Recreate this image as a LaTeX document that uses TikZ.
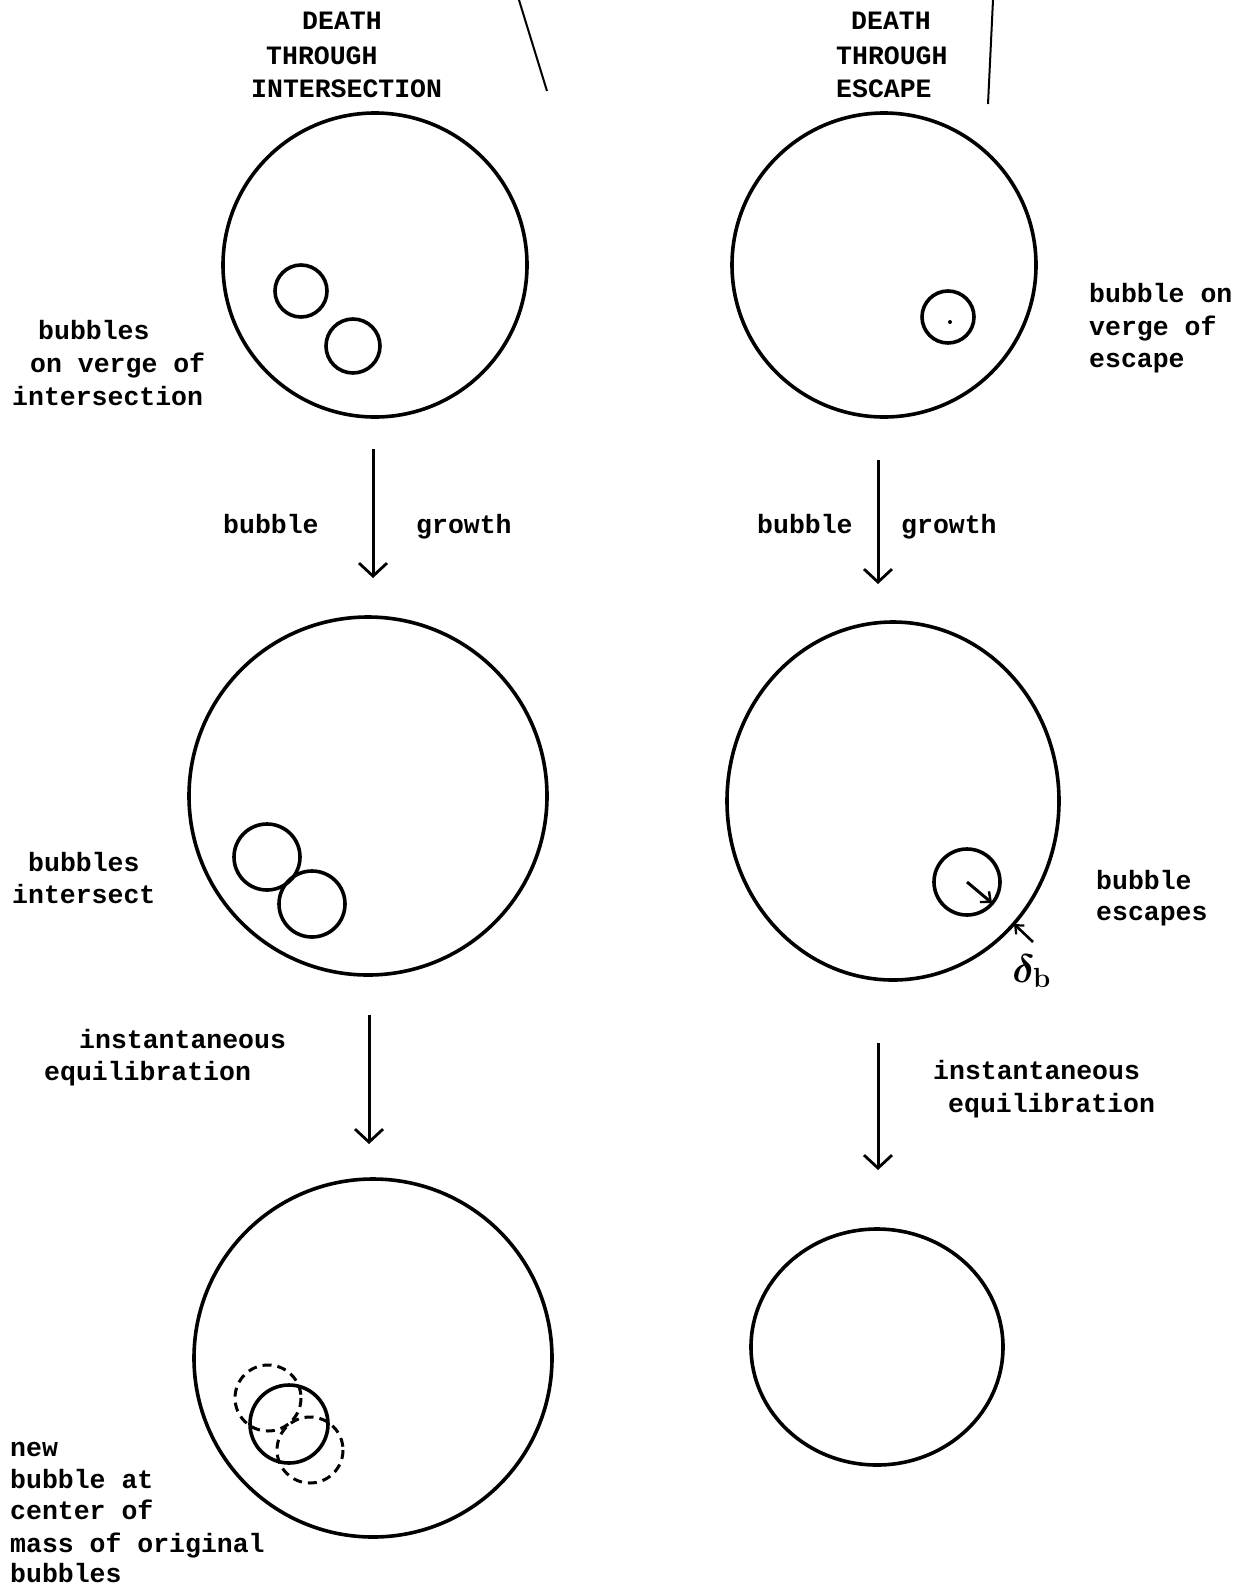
\documentclass[tikz,border=0pt]{standalone}
\usepackage{fontspec}
\setmonofont{Liberation Mono}
\usetikzlibrary{arrows.meta}
\begin{document}
\begin{tikzpicture}[x=1pt,y=-1pt,
  lbl/.style={font=\ttfamily\bfseries\fontsize{26.5}{26.5}\selectfont, anchor=base west, inner sep=0pt},
  ring/.style={line width=3.6pt},
  dring/.style={line width=3pt, dash pattern=on 9pt off 6pt},
  flow/.style={line width=3pt, -{Straight Barb[length=13pt,width=28pt,line width=2.8pt]}},
  thin/.style={line width=2pt}]
\useasboundingbox (0,0) rectangle (1242,1587);
\fill[white] (0,0) rectangle (1242,1587);

% top dividing strokes
\coordinate (l1a) at (519,0); \coordinate (l1b) at (547,91);
\coordinate (l2a) at (993,0); \coordinate (l2b) at (988,104);
\draw[thin] (l1a) -- (l1b);
\draw[thin] (l2a) -- (l2b);

% titles
\node[lbl] (t1) at (302,30) {DEATH};
\node[lbl] (t2) at (266,64) {THROUGH};
\node[lbl] (t3) at (251,97) {INTERSECTION};
\node[lbl] (t4) at (851,30) {DEATH};
\node[lbl] (t5) at (836,64) {THROUGH};
\node[lbl] (t6) at (836,97) {ESCAPE};

% ---- left column ----
\draw[ring] (375,265) circle[radius=152];
\draw[ring] (301,291) circle[radius=26];
\draw[ring] (353,346) circle[radius=27];

\draw[ring] (368,796) circle[radius=179];
\draw[ring] (267,857) circle[radius=33];
\draw[ring] (312,904) circle[radius=33];

\draw[ring] (373,1358) circle[radius=179];
\draw[dring] (268,1398) circle[radius=33];
\draw[dring] (310,1450) circle[radius=33];
\draw[ring] (289,1424) circle[radius=39];

% ---- right column ----
\draw[ring] (884,265) circle[radius=152];
\draw[ring] (948,317) circle[radius=26];
\fill (950,322) circle[radius=2];

\draw[ring] (893,801) ellipse[x radius=166, y radius=179];
\draw[ring] (967,882) circle[radius=33];
\coordinate (sc) at (967,882); \coordinate (se) at (992,903);
\draw[line width=3pt, -{Straight Barb[length=8pt,width=14pt,line width=2.4pt]}] (sc) -- (se);
\coordinate (da) at (1033,942); \coordinate (db) at (1014,924);
\draw[line width=2.6pt, -{Straight Barb[length=7pt,width=12pt,line width=2.2pt]}] (da) -- (db);
\node[inner sep=0pt, anchor=base west, scale=1.6, font=\fontsize{24}{24}\selectfont\boldmath] (delta) at (1012,982) {$\delta_{\mathbf{b}}$};

\draw[ring] (877,1347) ellipse[x radius=126, y radius=118];

% ---- arrows ----
\coordinate (a1s) at (373,449); \coordinate (a1e) at (373,578);
\coordinate (a2s) at (878,460); \coordinate (a2e) at (878,584);
\coordinate (a3s) at (369,1015); \coordinate (a3e) at (369,1144);
\coordinate (a4s) at (878,1043); \coordinate (a4e) at (878,1170);
\draw[flow] (a1s) -- (a1e);
\draw[flow] (a2s) -- (a2e);
\draw[flow] (a3s) -- (a3e);
\draw[flow] (a4s) -- (a4e);

% ---- labels ----
\node[lbl] (b1) at (38,339) {bubbles};
\node[lbl] (b2) at (30,372) {on verge of};
\node[lbl] (b3) at (12,405) {intersection};

\node[lbl] (g1) at (223,533) {bubble};
\node[lbl] (g2) at (416,533) {growth};
\node[lbl] (g3) at (757,533) {bubble};
\node[lbl] (g4) at (901,533) {growth};

\node[lbl] (e1) at (1089,302) {bubble on};
\node[lbl] (e2) at (1089,335) {verge of};
\node[lbl] (e3) at (1089,367) {escape};

\node[lbl] (i1) at (28,871) {bubbles};
\node[lbl] (i2) at (12,903) {intersect};

\node[lbl] (s1) at (1096,889) {bubble};
\node[lbl] (s2) at (1096,920) {escapes};

\node[lbl] (q1) at (79,1048) {instantaneous};
\node[lbl] (q2) at (44,1080) {equilibration};
\node[lbl] (q3) at (933,1079) {instantaneous};
\node[lbl] (q4) at (948,1112) {equilibration};

\node[lbl] (n1) at (10,1456) {new};
\node[lbl] (n2) at (10,1488) {bubble at};
\node[lbl] (n3) at (10,1519) {center of};
\node[lbl] (n4) at (10,1552) {mass of original};
\node[lbl] (n5) at (10,1582) {bubbles};
\end{tikzpicture}
\end{document}
